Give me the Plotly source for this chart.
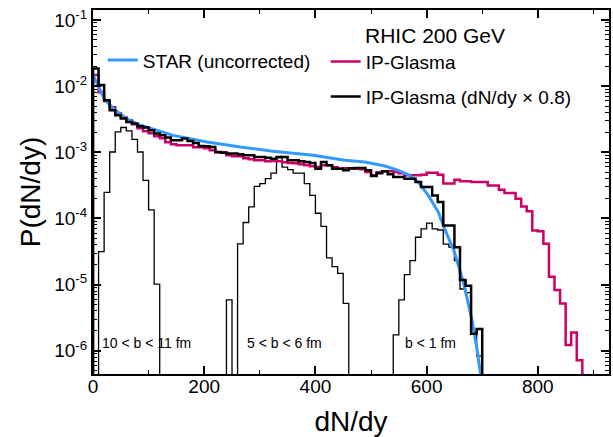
import plotly.graph_objects as go

# ---------------- data ----------------
BIN_WIDTH = 10
FLOOR = 1e-9  # stands for "empty bin" (below the visible range)

# STAR (uncorrected) - smooth curve
star_x = [0, 10, 20, 30, 40, 60, 85, 100, 144, 205, 265, 324, 396, 453, 489,
          525, 549, 567, 585, 603, 621, 631, 649, 667, 682, 691, 697]
star_p = [1.47e-2, 9.5e-3, 6.5e-3, 5.2e-3, 4.33e-3, 3.24e-3, 2.56e-3, 2.35e-3,
          1.8e-3, 1.43e-3, 1.20e-3, 1.04e-3, 9.0e-4, 7.56e-4, 7.13e-4, 6.2e-4,
          5.34e-4, 4.59e-4, 3.55e-4, 2.23e-4, 1.25e-4, 7.4e-5, 3.3e-5, 1.02e-5,
          2.8e-6, 1.0e-6, 4.4e-7]

# IP-Glasma histogram, bins of 10 starting at 0
glasma_start = 0
glasma_p = [1.47e-2, 8.11e-3, 5.93e-3, 4.81e-3, 3.90e-3, 3.39e-3, 3.05e-3, 2.66e-3,
            2.31e-3, 2.08e-3, 1.94e-3, 1.75e-3, 1.63e-3, 1.42e-3, 1.32e-3, 1.28e-3,
            1.28e-3, 1.28e-3, 1.19e-3, 1.19e-3, 1.15e-3, 1.07e-3, 1.00e-3, 1.00e-3,
            9.01e-4, 8.70e-4, 8.70e-4, 8.11e-4, 7.83e-4, 7.56e-4, 7.56e-4, 7.31e-4,
            7.38e-4, 7.31e-4, 7.06e-4, 6.88e-4, 6.81e-4, 6.58e-4, 6.35e-4, 6.14e-4,
            5.99e-4, 6.35e-4, 6.35e-4, 5.92e-4, 5.66e-4, 5.72e-4, 5.66e-4, 5.66e-4,
            5.53e-4, 5.03e-4, 4.48e-4, 4.98e-4, 5.15e-4, 5.15e-4, 5.03e-4, 4.81e-4,
            4.48e-4, 4.48e-4, 4.48e-4, 4.59e-4, 4.92e-4, 4.92e-4, 4.59e-4, 3.39e-4,
            3.39e-4, 3.86e-4, 3.64e-4, 3.64e-4, 3.55e-4, 3.55e-4, 3.55e-4, 3.16e-4,
            3.16e-4, 2.72e-4, 2.42e-4, 2.42e-4, 1.99e-4, 1.52e-4, 1.29e-4, 6.58e-5,
            6.42e-5, 4.14e-5, 1.32e-5, 8.31e-6, 5.21e-6, 1.22e-6, 1.89e-6, 7.23e-7]

# IP-Glasma (dN/dy x 0.8) histogram, bins of 10 starting at 0
glasma08_start = 0
glasma08_p = [1.85e-2, 1.035e-2, 6.14e-3, 4.33e-3, 3.64e-3, 3.24e-3, 2.88e-3, 2.72e-3,
              2.48e-3, 2.37e-3, 2.15e-3, 1.92e-3, 1.81e-3, 1.67e-3, 1.52e-3, 1.52e-3,
              1.61e-3, 1.48e-3, 1.38e-3, 1.25e-3, 1.23e-3, 1.20e-3, 1.01e-3, 9.83e-4,
              9.56e-4, 9.56e-4, 9.33e-4, 9.01e-4, 9.01e-4, 8.49e-4, 8.49e-4, 8.25e-4,
              8.02e-4, 8.40e-4, 8.49e-4, 7.56e-4, 7.56e-4, 7.31e-4, 7.13e-4, 6.88e-4,
              5.66e-4, 7.13e-4, 6.35e-4, 5.66e-4, 5.66e-4, 5.34e-4, 5.72e-4, 5.78e-4,
              5.78e-4, 5.34e-4, 4.37e-4, 4.81e-4, 5.15e-4, 4.64e-4, 4.22e-4, 4.22e-4,
              4.00e-4, 4.00e-4, 3.55e-4, 2.98e-4, 2.98e-4, 2.23e-4, 1.77e-4, 7.83e-5,
              7.83e-5, 3.67e-5, 1.18e-5, 9.66e-6, 1.81e-6, 2.13e-6]

# centrality-selected distributions (thin black)
periph_label = "10 &lt; b &lt; 11 fm"
periph_start = 10
periph_p = [3.16e-5, 2.48e-4, 1.01e-3, 2.03e-3, 2.37e-3, 2.10e-3, 1.57e-3, 1.01e-3,
            3.77e-4, 1.35e-4, 1.02e-5]

mid_label = "5 &lt; b &lt; 6 fm"
mid_start = 240
mid_p = [5.9e-6, 0, 4.14e-5, 8.7e-5, 1.5e-4, 3.06e-4, 3.36e-4, 4.0e-4, 4.86e-4,
         8.7e-4, 5.98e-4, 5.47e-4, 4.86e-4, 4.86e-4, 3.36e-4, 2.23e-4, 1.2e-4,
         7.6e-5, 2.54e-5, 1.87e-5, 1.48e-5, 5.2e-6]

central_label = "b &lt; 1 fm"
central_start = 540
central_p = [1.74e-6, 5.9e-6, 1.42e-5, 2.3e-5, 5.2e-5, 6.98e-5, 8.5e-5, 6.98e-5,
             6.7e-5, 4.1e-5, 3.7e-5, 2.3e-5, 8.6e-6, 7.6e-6, 1.8e-6, 8.4e-7]

label_x = [12, 273, 558]
label_logp = -5.88

x_ticks = [0, 200, 400, 600, 800]
y_ticks = [1e-6, 1e-5, 1e-4, 1e-3, 1e-2, 1e-1]
y_ticktext = ["10<sup>-6</sup>", "10<sup>-5</sup>", "10<sup>-4</sup>",
              "10<sup>-3</sup>", "10<sup>-2</sup>", "10<sup>-1</sup>"]

FONT = "Liberation Sans, Arial, sans-serif"
BLUE = "#3399ff"
MAGENTA = "#cc0066"


def steps(start, vals, width=BIN_WIDTH):
    xs, ys = [start], [FLOOR]
    for i, v in enumerate(vals):
        xs.append(start + i * width)
        ys.append(v if v > 0 else FLOOR)
    end = start + len(vals) * width
    xs += [end, end]
    ys += [ys[-1], FLOOR]
    return xs, ys


fig = go.Figure()

for start, vals in [(periph_start, periph_p), (mid_start, mid_p), (central_start, central_p)]:
    xs, ys = steps(start, vals)
    fig.add_trace(go.Scatter(x=xs, y=ys, mode="lines", line_shape="hv",
                             line=dict(color="black", width=1.3), showlegend=False,
                             hoverinfo="skip"))

xs, ys = steps(glasma_start, glasma_p)
fig.add_trace(go.Scatter(x=xs, y=ys, mode="lines", line_shape="hv",
                         line=dict(color=MAGENTA, width=2.5), name="IP-Glasma",
                         legend="legend2"))

fig.add_trace(go.Scatter(x=star_x, y=star_p, mode="lines", line_shape="linear",
                         line=dict(color=BLUE, width=3), name="STAR (uncorrected)",
                         legend="legend"))

xs, ys = steps(glasma08_start, glasma08_p)
fig.add_trace(go.Scatter(x=xs, y=ys, mode="lines", line_shape="hv",
                         line=dict(color="black", width=2.5),
                         name="IP-Glasma (dN/dy \u00d7 0.8)", legend="legend3"))

for txt, lx in zip([periph_label, mid_label, central_label], label_x):
    fig.add_annotation(x=lx, y=label_logp, xref="x", yref="y", text=txt,
                       showarrow=False, xanchor="left", yanchor="middle",
                       font=dict(family=FONT, size=14, color="black"))

fig.add_annotation(x=0.523, y=0.93, xref="paper", yref="paper", text="RHIC 200 GeV",
                   showarrow=False, xanchor="left", yanchor="middle",
                   font=dict(family=FONT, size=21, color="black"))

leg_common = dict(bgcolor="rgba(0,0,0,0)", borderwidth=0, xanchor="left",
                  yanchor="middle", font=dict(family=FONT, size=19, color="black"),
                  itemwidth=30, tracegroupgap=0)

fig.update_layout(
    width=613, height=437,
    margin=dict(l=93, r=4, t=10, b=63, autoexpand=False),
    paper_bgcolor="white", plot_bgcolor="white",
    font=dict(family=FONT, color="black"),
    legend=dict(x=0.019, y=0.862, **leg_common),
    legend2=dict(x=0.451, y=0.858, **leg_common),
    legend3=dict(x=0.451, y=0.762, **leg_common),
    xaxis=dict(range=[0, 928], tickmode="array", tickvals=x_ticks, automargin=False,
               ticks="inside", ticklen=8, tickwidth=1.5, tickcolor="black",
               showline=True, linewidth=2, linecolor="black", mirror="allticks",
               showgrid=False, zeroline=False, ticklabelstandoff=-6,
               tickfont=dict(family=FONT, size=19, color="black"),
               minor=dict(dtick=100, ticks="inside", ticklen=4, tickcolor="black",
                          tickwidth=1, showgrid=False),
               title=dict(text="dN/dy", font=dict(family=FONT, size=28, color="black"),
                          standoff=20)),
    yaxis=dict(type="log", range=[-6.35, -0.85], tickmode="array", automargin=False,
               tickvals=y_ticks, ticktext=y_ticktext,
               ticks="inside", ticklen=8, tickwidth=1.5, tickcolor="black",
               showline=True, linewidth=2, linecolor="black", mirror="allticks",
               showgrid=False, zeroline=False,
               tickfont=dict(family=FONT, size=19, color="black"),
               minor=dict(dtick="D1", ticks="inside", ticklen=4, tickcolor="black",
                          tickwidth=1, showgrid=False),
               title=dict(text="P(dN/dy)", font=dict(family=FONT, size=28, color="black"),
                          standoff=5)),
)

fig.write_html("out.html", config={"displayModeBar": False},
               post_script="document.body.style.margin='0';document.body.style.overflow='hidden';")
